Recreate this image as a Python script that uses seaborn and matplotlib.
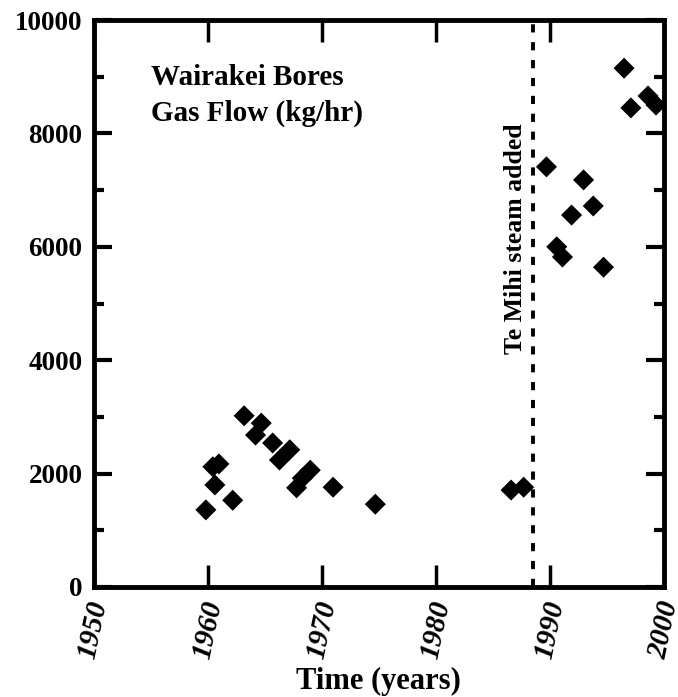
import matplotlib
matplotlib.use("Agg")
import matplotlib.pyplot as plt
import seaborn as sns
import pandas as pd
from matplotlib.ticker import MultipleLocator

years = [1959.85, 1960.46, 1960.64, 1960.99, 1962.2, 1963.2, 1964.7, 1964.2,
         1965.7, 1967.2, 1966.3, 1969.0, 1968.3, 1967.8, 1971.0, 1974.7,
         1986.6, 1987.7,
         1996.5, 1998.6, 1999.3, 1997.1, 1989.7, 1992.95, 1991.9, 1993.8,
         1990.6, 1991.1, 1994.7]
gas_flow = [1360, 2120, 1800, 2170, 1530, 3020, 2890, 2680,
            2540, 2420, 2240, 2060, 1920, 1750, 1760, 1460,
            1710, 1760,
            9150, 8660, 8500, 8450, 7410, 7180, 6560, 6720,
            6000, 5820, 5640]
te_mihi_year = 1988.5
x_ticks = [1950, 1960, 1970, 1980, 1990, 2000]
y_ticks = [0, 2000, 4000, 6000, 8000, 10000]

sns.set_style("ticks")
plt.rcParams['font.family'] = ['Liberation Serif', 'DejaVu Serif']
plt.rcParams['font.weight'] = 'bold'
for k in ['text.color', 'axes.labelcolor', 'xtick.color', 'ytick.color', 'axes.edgecolor']:
    plt.rcParams[k] = 'black'

df = pd.DataFrame({"year": years, "flow": gas_flow})

fig = plt.figure(figsize=(6.78, 6.97), dpi=100)
ax = fig.add_axes([93.5/678, 1-587/697, (664-93.5)/678, (587-20)/697])

sns.scatterplot(data=df, x="year", y="flow", ax=ax, marker="D", s=115,
                color="black", edgecolor="none", linewidth=0, clip_on=False, zorder=3)

ax.axvline(te_mihi_year, color="black", lw=2.8, linestyle=(0, (2.1, 2.5)), zorder=2)
ax.text(te_mihi_year - 1.5, 6150, "Te Mihi steam added", rotation=90,
        ha="center", va="center", fontsize=18.5, fontweight="bold")

ax.text(1955, 9230, "Wairakei Bores\nGas Flow (kg/hr)", ha="left", va="top",
        fontsize=21, fontweight="bold", linespacing=1.45)

ax.set_xlim(1950, 2000)
ax.set_ylim(0, 10000)
ax.set_xticks(x_ticks)
ax.set_yticks(y_ticks)
ax.yaxis.set_minor_locator(MultipleLocator(1000))
ax.set_xticklabels([str(t) for t in x_ticks], rotation=78, fontstyle="italic",
                   fontsize=21, fontweight="bold")
ax.set_yticklabels([str(t) for t in y_ticks], fontsize=19.5, fontweight="bold")
ax.set_xlabel("Time (years)", fontsize=22, fontweight="bold", labelpad=4)
ax.set_ylabel("")

for sp in ax.spines.values():
    sp.set_linewidth(3.5)
    sp.set_color("black")

ax.tick_params(axis="x", which="major", direction="in", length=16, width=2.5,
               top=True, bottom=True, pad=8)
ax.tick_params(axis="y", which="major", direction="in", length=13, width=3,
               left=True, right=True, pad=8)
ax.tick_params(axis="y", which="minor", direction="in", length=7, width=3,
               left=True, right=True)
ax.tick_params(axis="x", which="minor", bottom=False, top=False)

fig.savefig("out.png", dpi=100)
